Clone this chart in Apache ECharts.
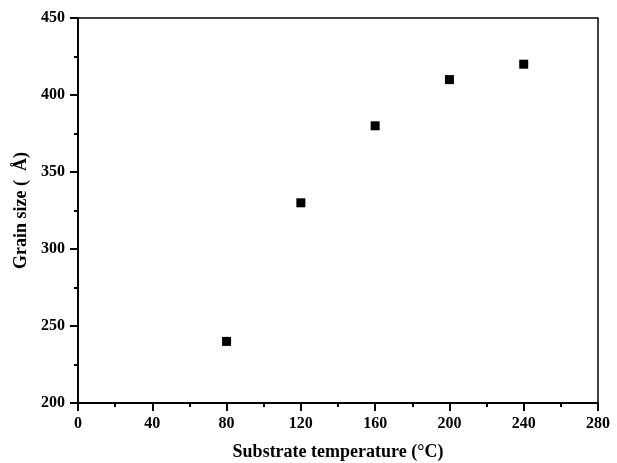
<!DOCTYPE html>
<html><head><meta charset="utf-8">
<script src="https://cdn.jsdelivr.net/npm/echarts@6/dist/echarts.min.js"></script>
<style>html,body{margin:0;padding:0;background:#fff}#c{width:617px;height:463px}</style>
</head><body><div id="c"></div>
<script>
const temperatures = [80, 120, 160, 200, 240];
const grainSizes = [240, 330, 380, 410, 420];
const xTitle = 'Substrate temperature (°C)';
const yTitle = 'Grain size (  Å)';

const font = '"Liberation Serif", "Times New Roman", serif';
const chart = echarts.init(document.getElementById('c'), null, {renderer: 'canvas'});
const axisCommon = {
  axisLine: {show: true, onZero: false, lineStyle: {color: '#000', width: 2}},
  axisTick: {show: true, inside: false, length: 8, lineStyle: {color: '#000', width: 2}},
  minorTick: {show: true, splitNumber: 2, length: 4, lineStyle: {color: '#000', width: 2}},
  splitLine: {show: false},
  axisLabel: {color: '#000', fontFamily: font, fontWeight: 'bold', fontSize: 16},
  nameTextStyle: {color: '#000', fontFamily: font, fontWeight: 'bold', fontSize: 18}
};
chart.setOption({
  animation: false,
  grid: {left: 78, right: 19, top: 18, bottom: 60, outerBoundsMode: 'none', containLabel: false,
         show: true, borderColor: '#000', borderWidth: 1.5, backgroundColor: 'transparent'},
  xAxis: Object.assign({}, axisCommon, {
    type: 'value', min: 0, max: 280, interval: 40,
    name: xTitle, nameLocation: 'middle', nameGap: 40,
    axisLabel: Object.assign({}, axisCommon.axisLabel, {margin: 13})
  }),
  yAxis: Object.assign({}, axisCommon, {
    type: 'value', min: 200, max: 450, interval: 50,
    name: yTitle, nameLocation: 'middle', nameGap: 42,
    axisLabel: Object.assign({}, axisCommon.axisLabel, {margin: 13})
  }),
  series: [{
    type: 'scatter',
    symbol: 'rect',
    symbolSize: 9,
    itemStyle: {color: '#000', opacity: 1},
    data: temperatures.map((t, i) => [t, grainSizes[i]])
  }]
});
</script></body></html>
